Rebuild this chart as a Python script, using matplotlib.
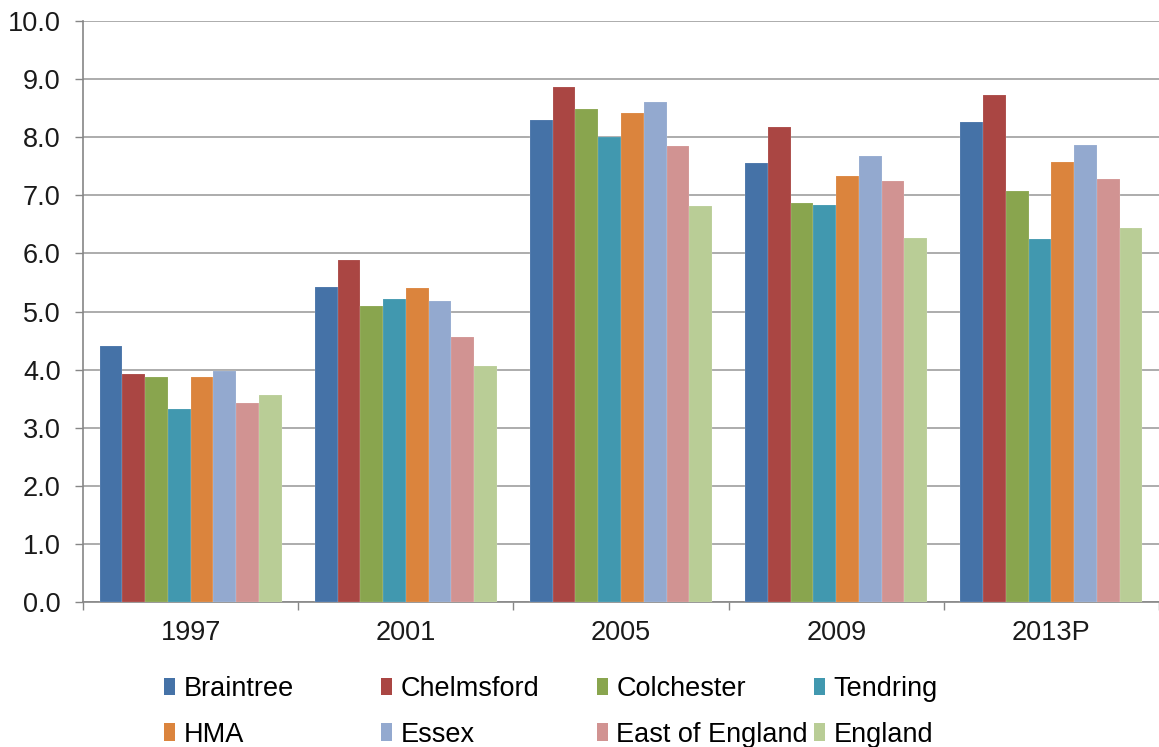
import matplotlib
matplotlib.use("Agg")
import matplotlib.pyplot as plt
from matplotlib.patches import Patch
import numpy as np

plt.rcParams['font.family'] = ['Liberation Sans', 'DejaVu Sans']

years = ["1997", "2001", "2005", "2009", "2013P"]
series_names = ["Braintree", "Chelmsford", "Colchester", "Tendring",
                "HMA", "Essex", "East of England", "England"]
braintree = [4.41, 5.43, 8.29, 7.55, 8.26]
chelmsford = [3.92, 5.89, 8.87, 8.17, 8.72]
colchester = [3.88, 5.09, 8.49, 6.86, 7.08]
tendring = [3.33, 5.21, 8.00, 6.84, 6.24]
hma = [3.88, 5.40, 8.41, 7.34, 7.57]
essex = [3.97, 5.18, 8.60, 7.67, 7.86]
east_of_england = [3.43, 4.56, 7.85, 7.24, 7.28]
england = [3.56, 4.07, 6.82, 6.26, 6.44]
yticks = [0, 1, 2, 3, 4, 5, 6, 7, 8, 9, 10]

all_series = [braintree, chelmsford, colchester, tendring, hma, essex,
              east_of_england, england]
colors = ["#4572A7", "#AA4643", "#89A54E", "#4198AF",
          "#DB843D", "#93A9CF", "#D19392", "#B9CD96"]

W, H = 1159, 747
fig = plt.figure(figsize=(W / 100, H / 100), dpi=100)
ax = fig.add_axes([83 / W, 1 - 602 / H, (1159 - 83) / W, (602 - 21) / H])

x = np.arange(len(years))
group_w = 0.846
bw = group_w / len(all_series)
for i, (vals, c) in enumerate(zip(all_series, colors)):
    offs = -group_w / 2 + bw * (i + 0.5)
    ax.bar(x + offs, vals, width=bw, color=c, edgecolor="#ffffff80",
           linewidth=0.2, zorder=3)

ax.set_xlim(-0.5, len(years) - 0.5)
ax.set_ylim(0, 10)
ax.set_yticks(yticks)
ax.set_yticklabels([f"{v:.1f}" for v in yticks])
ax.yaxis.grid(True, color="#a6a6a6", linewidth=1.3, zorder=0)
ax.set_axisbelow(True)

ax.set_xticks(x)
ax.set_xticklabels(years)
ax.set_xticks(np.arange(-0.5, len(years) + 0.5, 1.0), minor=True)
ax.tick_params(axis="x", which="major", length=0, pad=13, labelsize=19.5,
               colors="#1a1a1a")
ax.tick_params(axis="x", which="minor", length=6, width=1, color="#868686")
ax.tick_params(axis="y", length=6, width=1, color="#868686", pad=10,
               labelsize=19.5, labelcolor="#1a1a1a")

for s in ["top", "right"]:
    ax.spines[s].set_visible(False)
for s in ["left", "bottom"]:
    ax.spines[s].set_color("#868686")
    ax.spines[s].set_linewidth(1.2)

# legend: 4 columns of 2 rows
col_x = [164, 381, 597, 814]
for col in range(4):
    idx = [col, col + 4]
    handles = [Patch(facecolor=colors[k], edgecolor="none") for k in idx]
    labels = [series_names[k] for k in idx]
    fig.legend(handles, labels, loc="upper left",
               bbox_to_anchor=(col_x[col] / W, 1 - 676 / H),
               frameon=False, fontsize=19.5, borderpad=0, borderaxespad=0,
               handlelength=0.42, handleheight=0.62, handletextpad=0.3,
               labelspacing=0.72)

fig.savefig("out.png", dpi=100)
